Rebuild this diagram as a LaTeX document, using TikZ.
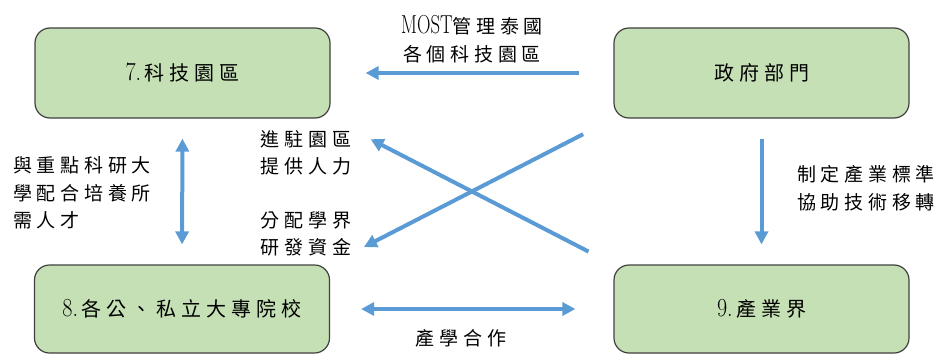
\documentclass[tikz,border=0pt]{standalone}
\usepackage{fontspec}
\usepackage{graphicx}
\newfontfamily\cjk[LetterSpace=25]{Noto Sans CJK TC}
\usetikzlibrary{arrows.meta}
\definecolor{boxfill}{HTML}{C5E0B4}
\definecolor{boxline}{HTML}{404040}
\definecolor{arrblue}{HTML}{5B9BD5}
\newcommand\ck[1]{{\cjk #1}}
\newcommand\nm[1]{\scalebox{0.85}[1]{\fontsize{26}{26}\selectfont #1}\,}
\begin{document}
\begin{tikzpicture}[x=1pt,y=-1pt,
  box/.style={draw=boxline, line width=1.2pt, fill=boxfill, rounded corners=15pt,
    minimum width=295pt, inner sep=0pt, font=\fontsize{20}{24}\selectfont},
  lbl/.style={inner sep=0pt, font=\fontsize{19}{27.5}\selectfont, align=center},
  arr/.style={draw=arrblue, line width=4pt, -{Triangle[length=13pt,width=13pt]}},
  darr/.style={draw=arrblue, line width=4pt, {Triangle[length=13pt,width=13pt]}-{Triangle[length=13pt,width=13pt]}},
]
\useasboundingbox (0,0) rectangle (952,361);
\node[box, minimum height=90pt] (park) at (182.5,73) {\nm{7.}\ck{科技園區}};
\node[box, minimum height=90pt] (gov) at (761.5,73) {\ck{政府部門}};
\node[box, minimum height=88pt] (univ) at (182,309) {\nm{8.}\ck{各公、私立大專院校}};
\node[box, minimum height=88pt] (ind) at (761.5,309) {\nm{9.}\ck{產業界}};

\node[lbl] (most) at (472,39) {\scalebox{0.72}[1]{\fontsize{26}{26}\selectfont MOST}\ck{管理泰國}\\\ck{各個科技園區}};
\node[lbl] (staff) at (306,153) {\ck{進駐園區}\\\ck{提供人力}};
\node[lbl] (fund) at (306,234) {\ck{分配學界}\\\ck{研發資金}};
\node[lbl, align=left, anchor=west] (talent) at (13,193) {\ck{與重點科研大}\\\ck{學配合培養所}\\\ck{需人才}};
\node[lbl] (std) at (866,188) {\ck{制定產業標準}\\\ck{協助技術移轉}};
\node[lbl] (coop) at (461,338) {\ck{產學合作}};

\draw[arr, shorten <=34pt, shorten >=35pt] (gov.west) -- (park.east);
\draw[darr, shorten <=20pt, shorten >=20pt] (park.south) -- (univ.north);
\draw[arr, shorten <=20pt, shorten >=20pt] (gov.south) -- (ind.north);
\draw[darr, shorten <=31pt, shorten >=38pt] (univ.east) -- (ind.west);
\draw[arr, shorten <=34pt, shorten >=38pt] (gov.south west) -- (univ.north east);
\draw[arr, shorten <=28pt, shorten >=45pt] (ind.north west) -- (park.south east);
\end{tikzpicture}
\end{document}
